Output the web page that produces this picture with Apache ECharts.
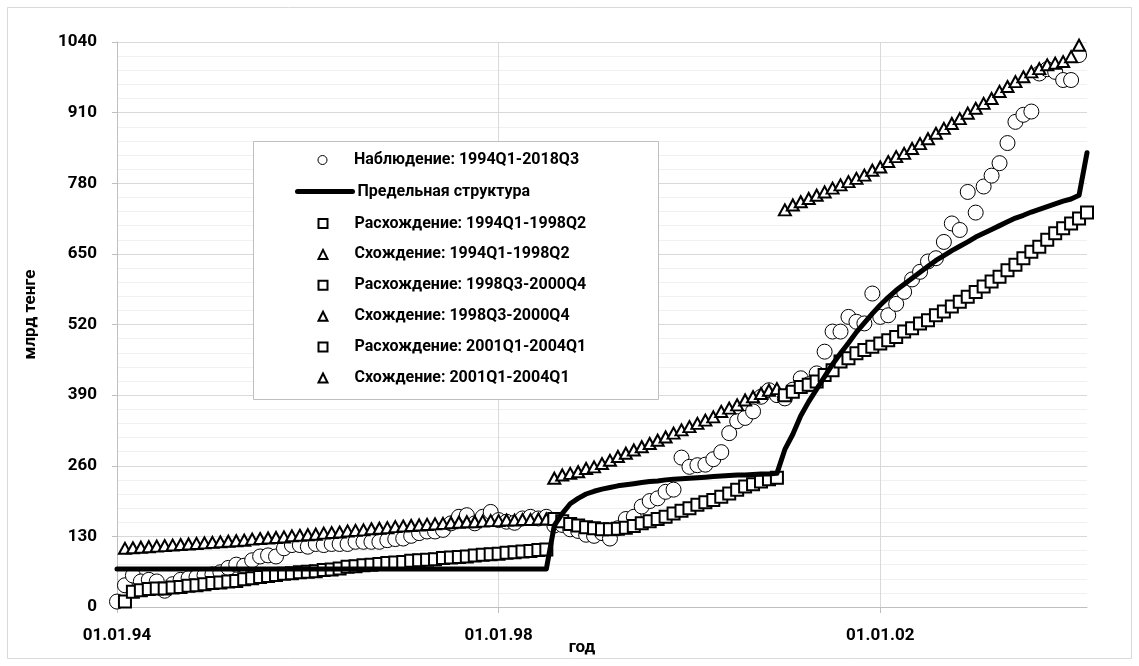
<!DOCTYPE html>
<html>
<head>
<meta charset="utf-8">
<script src="https://cdn.jsdelivr.net/npm/echarts@6/dist/echarts.min.js"></script>
<style>
html, body { margin: 0; padding: 0; background: #ffffff; }
#chart { width: 1139px; height: 666px; }
</style>
</head>
<body>
<div id="chart"></div>
<script>
// ---- Data (x = month index counted from January 1994) ----
const tickMonths = [0, 48, 96];
const tickLabels = ['01.01.94', '01.01.98', '01.01.02'];

const seriesNames = [
  'Наблюдение: 1994Q1-2018Q3',
  'Предельная структура',
  'Расхождение: 1994Q1-1998Q2',
  'Схождение: 1994Q1-1998Q2',
  'Расхождение: 1998Q3-2000Q4',
  'Схождение: 1998Q3-2000Q4',
  'Расхождение: 2001Q1-2004Q1',
  'Схождение: 2001Q1-2004Q1'
];

const observedStart = 0;
const observed = [
  10, 40, 58, 47, 50, 47, 30, 42, 50, 53,
  55, 58, 60, 64, 72, 78, 76, 86, 93, 95,
  93, 108, 114, 114, 111, 116, 114, 116, 116, 116,
  120, 120, 120, 120, 123, 125, 126, 131, 136, 139,
  139, 142, 154, 166, 169, 154, 166, 175, 160, 157,
  155, 163, 166, 163, 166, 150, 151, 143, 140, 133,
  131, 136, 126, 145, 162, 166, 185, 195, 200, 212,
  216, 275, 258, 261, 262, 272, 285, 320, 342, 348,
  360, 387, 399, 390, 384, 400, 421, 410, 430, 470,
  507, 507, 534, 525, 522, 577, 534, 537, 558, 580,
  603, 617, 636, 642, 672, 706, 694, 764, 726, 774,
  794, 817, 854, 893, 906, 912, 982, 990, 985, 970,
  970, 1016
];

const limitStart = 0;
const limitStructure = [
  70, 70, 70, 70, 70, 70, 70, 70, 70, 70,
  70, 70, 70, 70, 70, 70, 70, 70, 70, 70,
  70, 70, 70, 70, 70, 70, 70, 70, 70, 70,
  70, 70, 70, 70, 70, 70, 70, 70, 70, 70,
  70, 70, 70, 70, 70, 70, 70, 70, 70, 70,
  70, 70, 70, 70, 70,
  150, 172, 190, 200, 208, 213, 217, 220, 223, 225,
  227, 229, 231, 232, 234, 235, 236, 237, 238, 239,
  240, 241, 242, 243, 243, 244, 245, 245, 246,
  290, 318, 352, 378, 401, 424, 447, 467, 486, 506,
  523, 540, 556, 570, 583, 594, 605, 616, 627, 638,
  647, 656, 664, 672, 681, 688, 695, 702, 709, 716,
  721, 727, 732, 737, 742, 747, 751, 758, 836
];

const div1Start = 1;
const divergence1 = [
  10, 28, 31, 33, 34, 34, 36, 37, 39, 40,
  42, 44, 45, 47, 48, 51, 53, 55, 57, 59,
  61, 62, 64, 65, 66, 68, 69, 71, 74, 75,
  77, 78, 79, 81, 82, 83, 85, 86, 87, 88,
  90, 91, 92, 93, 95, 96, 97, 98, 100, 101,
  102, 103, 105, 106
];
const conv1Start = 1;
const convergence1 = [
  108, 109, 110, 111, 112, 113, 114, 115, 116, 117,
  118, 119, 120, 121, 122, 123, 125, 126, 127, 128,
  129, 131, 132, 133, 134, 136, 137, 138, 140, 141,
  142, 144, 145, 146, 148, 149, 150, 151, 152, 153,
  154, 155, 156, 157, 157, 158, 159, 159, 160, 160,
  161, 161, 162, 162
];

const div2Start = 55;
const divergence2 = [
  162, 158, 153, 150, 147, 145, 143, 143, 144, 146,
  149, 154, 158, 162, 166, 172, 177, 182, 188, 193,
  197, 203, 209, 216, 222, 226, 231, 235, 238
];
const conv2Start = 55;
const convergence2 = [
  237, 243, 246, 249, 255, 258, 264, 270, 277, 283,
  289, 295, 301, 307, 313, 320, 326, 332, 338, 344,
  350, 360, 366, 372, 381, 387, 393, 399, 402
];

const div3Start = 84;
const divergence3 = [
  390, 396, 405, 409, 415, 427, 436, 452, 458, 467,
  473, 479, 485, 491, 497, 507, 513, 522, 528, 537,
  544, 553, 562, 571, 580, 590, 599, 608, 620, 630,
  642, 654, 663, 676, 688, 697, 706, 715, 726
];
const conv3Start = 84;
const convergence3 = [
  731, 740, 746, 752, 758, 764, 771, 777, 783, 789,
  795, 804, 810, 820, 829, 835, 844, 853, 862, 872,
  881, 890, 899, 909, 918, 927, 936, 949, 958, 967,
  976, 985, 991, 998, 1001, 1004, 1013, 1034
];

// ---- Chart ----
const FONT = 'Roboto';
const toPoints = (start, vals) => vals.map((v, i) => [start + i, v]);

const circleStyle = { color: '#ffffff', borderColor: '#000000', borderWidth: 1, opacity: 1 };
const squareStyle = { color: '#ffffff', borderColor: '#000000', borderWidth: 2, opacity: 1 };
const triStyle = { color: '#ffffff', borderColor: '#000000', borderWidth: 2, opacity: 1 };

function squareSeries(name, start, vals) {
  return { name, type: 'scatter', symbol: 'rect', symbolSize: 12,
           itemStyle: squareStyle, data: toPoints(start, vals), clip: false, silent: true };
}
function triSeries(name, start, vals) {
  return { name, type: 'scatter', symbol: 'triangle', symbolSize: [12, 11],
           itemStyle: triStyle, data: toPoints(start, vals), clip: false, silent: true };
}

const textBase = { fontFamily: FONT, fontWeight: 'bold', color: '#000000' };

// legend rows (centres ~159, 190.5, 222 ... step 31.2)
const markerLegendBase = {
  orient: 'vertical', left: 317.5, padding: 0, itemGap: 14.9,
  itemWidth: 9, itemHeight: 9,
  backgroundColor: 'transparent',
  textStyle: { ...textBase, fontSize: 16, lineHeight: 16, padding: [0, 0, 0, 22] },
  itemStyle: { borderWidth: 'inherit', opacity: 1 },
  z: 10, selectedMode: false
};

const option = {
  animation: false,
  backgroundColor: '#ffffff',
  grid: { left: 117, right: 52, top: 42, bottom: 59, containLabel: false },
  xAxis: [
    {
      type: 'value', min: 0, max: 122, interval: 12,
      axisLine: { show: true, lineStyle: { color: '#bfbfbf', width: 1 } },
      axisTick: { show: true, length: 6, lineStyle: { color: '#bfbfbf' }, customValues: tickMonths },
      axisLabel: {
        customValues: tickMonths,
        formatter: v => { const i = tickMonths.indexOf(v); return i >= 0 ? tickLabels[i] : ''; },
        ...textBase, fontSize: 17, margin: 20
      },
      splitLine: { show: true, showMinLine: false, showMaxLine: false, lineStyle: { color: '#eeeeee', width: 1 } },
      name: 'год', nameLocation: 'middle', nameGap: 32, nameMoveOverlap: false,
      nameTextStyle: { ...textBase, fontSize: 17, padding: [0, 40, 0, 0] }
    },
    {
      type: 'value', min: 0, max: 122, interval: 48, position: 'top',
      axisLine: { show: false }, axisTick: { show: false }, axisLabel: { show: false },
      splitLine: { show: true, showMinLine: false, showMaxLine: false, lineStyle: { color: '#d9d9d9', width: 1 } }
    }
  ],
  yAxis: {
    type: 'value', min: 0, max: 1040, interval: 130,
    axisLine: { show: true, lineStyle: { color: '#bfbfbf', width: 1 } },
    axisTick: { show: true, length: 5, lineStyle: { color: '#bfbfbf' } },
    axisLabel: { ...textBase, fontSize: 17, margin: 20, formatter: v => String(v) },
    splitLine: { show: true, lineStyle: { color: '#d9d9d9', width: 1 } },
    minorTick: { show: false, splitNumber: 5 },
    minorSplitLine: { show: true, lineStyle: { color: '#f0f0f0', width: 1 } },
    name: 'млрд тенге', nameLocation: 'middle', nameGap: 78, nameRotate: 90, nameMoveOverlap: false,
    nameTextStyle: { ...textBase, fontSize: 17, padding: [0, 0, 0, 20] }
  },
  legend: [
    { ...markerLegendBase, top: 152, data: [seriesNames[0]] },
    {
      orient: 'vertical', left: 295, top: 183.5, padding: 0,
      itemWidth: 55, itemHeight: 9,
      backgroundColor: 'transparent',
      textStyle: { ...textBase, fontSize: 16, lineHeight: 16 },
      lineStyle: { width: 'inherit', color: '#000000', opacity: 1 },
      itemStyle: { color: 'rgba(0,0,0,0)', borderWidth: 0, borderColor: 'rgba(0,0,0,0)' },
      data: [{ name: seriesNames[1], icon: 'inherit' }],
      z: 10, selectedMode: false
    },
    { ...markerLegendBase, top: 215.5, data: seriesNames.slice(2) }
  ],
  graphic: [
    { type: 'rect', z: 0, silent: true,
      shape: { x: 7.5, y: 7.5, width: 1124, height: 651 },
      style: { fill: 'none', stroke: '#d9d9d9', lineWidth: 1 } },
    { type: 'rect', z: 3, silent: true,
      shape: { x: 253.5, y: 141.5, width: 405, height: 258 },
      style: { fill: '#ffffff', stroke: '#bfbfbf', lineWidth: 1 } }
  ],
  series: [
    { name: seriesNames[0], type: 'scatter', symbol: 'circle', symbolSize: 15,
      itemStyle: circleStyle, data: toPoints(observedStart, observed), clip: false, silent: true },
    { name: seriesNames[1], type: 'line', symbol: 'none', showSymbol: false,
      lineStyle: { color: '#000000', width: 5, cap: 'round', join: 'round' },
      itemStyle: { color: '#000000' },
      data: toPoints(limitStart, limitStructure), clip: false, silent: true },
    squareSeries(seriesNames[2], div1Start, divergence1),
    triSeries(seriesNames[3], conv1Start, convergence1),
    squareSeries(seriesNames[4], div2Start, divergence2),
    triSeries(seriesNames[5], conv2Start, convergence2),
    squareSeries(seriesNames[6], div3Start, divergence3),
    triSeries(seriesNames[7], conv3Start, convergence3)
  ]
};

const chart = echarts.init(document.getElementById('chart'), null, { renderer: 'canvas' });
chart.setOption(option);
</script>
</body>
</html>
